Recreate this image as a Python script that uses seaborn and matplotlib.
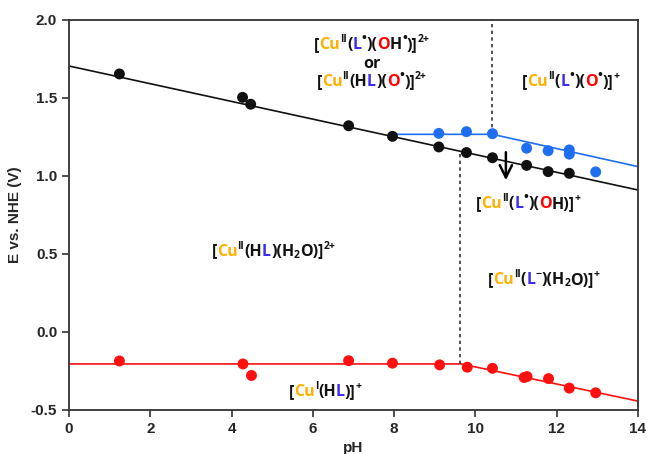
import numpy as np
import pandas as pd
import matplotlib
matplotlib.use("Agg")
import matplotlib.pyplot as plt
import seaborn as sns
from matplotlib.font_manager import FontProperties, findfont, get_font

# ---------------- data ----------------
black_ph = [1.24, 4.27, 4.47, 6.88, 7.96, 9.10, 9.78, 10.42, 11.26, 11.79, 12.31]
black_E = [1.654, 1.504, 1.460, 1.322, 1.254, 1.186, 1.150, 1.117, 1.068, 1.028, 1.017]

blue_ph = [9.10, 9.78, 10.42, 11.26, 11.79, 12.31, 12.31, 12.96]
blue_E = [1.273, 1.284, 1.271, 1.178, 1.162, 1.167, 1.140, 1.026]

red_ph = [1.24, 4.28, 4.49, 6.88, 7.96, 9.12, 9.80, 10.42, 11.20, 11.27, 11.80, 12.31, 12.96]
red_E = [-0.186, -0.205, -0.279, -0.184, -0.200, -0.211, -0.226, -0.233, -0.292, -0.286, -0.299, -0.360, -0.390]

# fitted lines (pH, E)
black_fit_ph = [0.0, 14.0]
black_fit_E = [1.705, 0.910]
blue_fit_ph = [7.96, 10.42, 14.0]
blue_fit_E = [1.267, 1.267, 1.060]
red_fit_ph = [0.0, 9.65, 14.0]
red_fit_E = [-0.205, -0.205, -0.443]

# dotted boundaries
vline1_ph, vline1_E = [10.40, 10.40], [1.267, 2.0]
vline2_ph, vline2_E = [9.63, 9.63], [-0.205, 1.158]

x_ticks = [0, 2, 4, 6, 8, 10, 12, 14]
y_ticks = [-0.5, 0.0, 0.5, 1.0, 1.5, 2.0]

# ---------------- style ----------------
sns.set_style("ticks")
plt.rcParams["font.family"] = ["Liberation Sans", "DejaVu Sans"]

C_BLACK = "#111111"
C_BLUE = "#1F6EF2"
C_RED = "#FF1010"
C_CU = "#FFB000"
C_L = "#3A2CF0"
C_O = "#FF0000"

fig = plt.figure(figsize=(6.48, 4.54), dpi=100)
ax = fig.add_axes([0.1065, 0.097, 0.878, 0.859])

pts = pd.DataFrame({
    "pH": black_ph + blue_ph + red_ph,
    "E": black_E + blue_E + red_E,
    "series": ["black"] * len(black_ph) + ["blue"] * len(blue_ph) + ["red"] * len(red_ph),
})
fits = pd.DataFrame({
    "pH": black_fit_ph + blue_fit_ph + red_fit_ph,
    "E": black_fit_E + blue_fit_E + red_fit_E,
    "series": ["black"] * len(black_fit_ph) + ["blue"] * len(blue_fit_ph) + ["red"] * len(red_fit_ph),
})
pal = {"black": C_BLACK, "blue": C_BLUE, "red": C_RED}

sns.lineplot(data=fits, x="pH", y="E", hue="series", palette=pal, lw=1.2,
             legend=False, ax=ax, sort=False, estimator=None)
sns.scatterplot(data=pts, x="pH", y="E", hue="series", palette=pal, s=62,
                edgecolor="none", legend=False, ax=ax, zorder=3)

ax.plot(vline1_ph, vline1_E, ls=(0, (2, 2)), color="#333333", lw=1.2)
ax.plot(vline2_ph, vline2_E, ls=(0, (2, 2)), color="#333333", lw=1.2)

ax.annotate("", xy=(10.75, 0.955), xytext=(10.75, 1.17),
            arrowprops=dict(arrowstyle="->", lw=1.8, color="black", mutation_scale=22))

ax.set_xlim(0, 14)
ax.set_ylim(-0.5, 2.0)
ax.set_xticks(x_ticks)
ax.set_yticks(y_ticks)
ax.set_xticklabels([str(t) for t in x_ticks], fontweight="bold", fontsize=11)
ax.set_yticklabels([f"{t:.1f}" for t in y_ticks], fontweight="bold", fontsize=11)
ax.set_xlabel("pH", fontweight="bold", fontsize=11, labelpad=4)
ax.set_ylabel("E vs. NHE (V)", fontweight="bold", fontsize=11, labelpad=6)
ax.tick_params(direction="out", length=5, width=1.2, color="#333333")
for sp in ax.spines.values():
    sp.set_color("#333333")
    sp.set_linewidth(1.3)

# ---------------- multicolor labels ----------------
FS = 11.5
FAM = "Open Sans"
TRACK = 0.0
FONT = get_font(findfont(FontProperties(family=FAM, weight="bold")))


def advance(text, size):
    FONT.set_size(size, 72)
    total = 0.0
    for ch in text:
        g = FONT.load_char(ord(ch))
        total += g.linearHoriAdvance / 65536.0
    return total


def formula(pieces, x, y):
    """pieces: (text, color, kind) with kind 'n' normal, 'p' superscript, 'b' subscript"""
    items = []
    for t, c, kind in pieces:
        size = FS if kind == "n" else FS * 0.65
        if t == "•":
            size = FS * 0.8
        dy = 0.0 if kind == "n" else (FS * 0.42 if kind == "p" else -FS * 0.15)
        items.append((t, c, size, dy, advance(t, size) + TRACK))
    total = sum(it[4] for it in items) - TRACK
    off = -total / 2.0
    for t, c, size, dy, w in items:
        ax.annotate(t, xy=(x, y), xycoords="data", xytext=(off, dy - FS * 0.35),
                    textcoords="offset points", ha="left", va="baseline",
                    color=c, fontsize=size, fontweight="bold",
                    family=[FAM, "DejaVu Sans"])
        off += w


k = C_BLACK
formula([("[", k, "n"), ("Cu", C_CU, "n"), ("II", k, "p"), ("(", k, "n"),
         ("L", C_L, "n"), ("•", k, "p"), (")(", k, "n"), ("O", C_O, "n"),
         ("H", k, "n"), ("•", k, "p"), (")]", k, "n"), ("2+", k, "p")], 7.45, 1.85)
formula([("or", k, "n")], 7.45, 1.725)
formula([("[", k, "n"), ("Cu", C_CU, "n"), ("II", k, "p"), ("(H", k, "n"),
         ("L", C_L, "n"), (")(", k, "n"), ("O", C_O, "n"), ("•", k, "p"),
         (")]", k, "n"), ("2+", k, "p")], 7.45, 1.615)
formula([("[", k, "n"), ("Cu", C_CU, "n"), ("II", k, "p"), ("(", k, "n"),
         ("L", C_L, "n"), ("•", k, "p"), (")(", k, "n"), ("O", C_O, "n"),
         ("•", k, "p"), (")]", k, "n"), ("+", k, "p")], 12.34, 1.615)
formula([("[", k, "n"), ("Cu", C_CU, "n"), ("II", k, "p"), ("(", k, "n"),
         ("L", C_L, "n"), ("•", k, "p"), (")(", k, "n"), ("O", C_O, "n"),
         ("H)]", k, "n"), ("+", k, "p")], 11.3, 0.83)
formula([("[", k, "n"), ("Cu", C_CU, "n"), ("II", k, "p"), ("(H", k, "n"),
         ("L", C_L, "n"), (")(H", k, "n"), ("2", k, "b"), ("O)]", k, "n"),
         ("2+", k, "p")], 5.03, 0.526)
formula([("[", k, "n"), ("Cu", C_CU, "n"), ("II", k, "p"), ("(", k, "n"),
         ("L", C_L, "n"), ("\u2212", k, "p"), (")(H", k, "n"), ("2", k, "b"),
         ("O)]", k, "n"), ("+", k, "p")], 11.68, 0.346)
formula([("[", k, "n"), ("Cu", C_CU, "n"), ("I", k, "p"), ("(H", k, "n"),
         ("L", C_L, "n"), (")]", k, "n"), ("+", k, "p")], 6.3, -0.375)

fig.savefig("out.png", dpi=100)
